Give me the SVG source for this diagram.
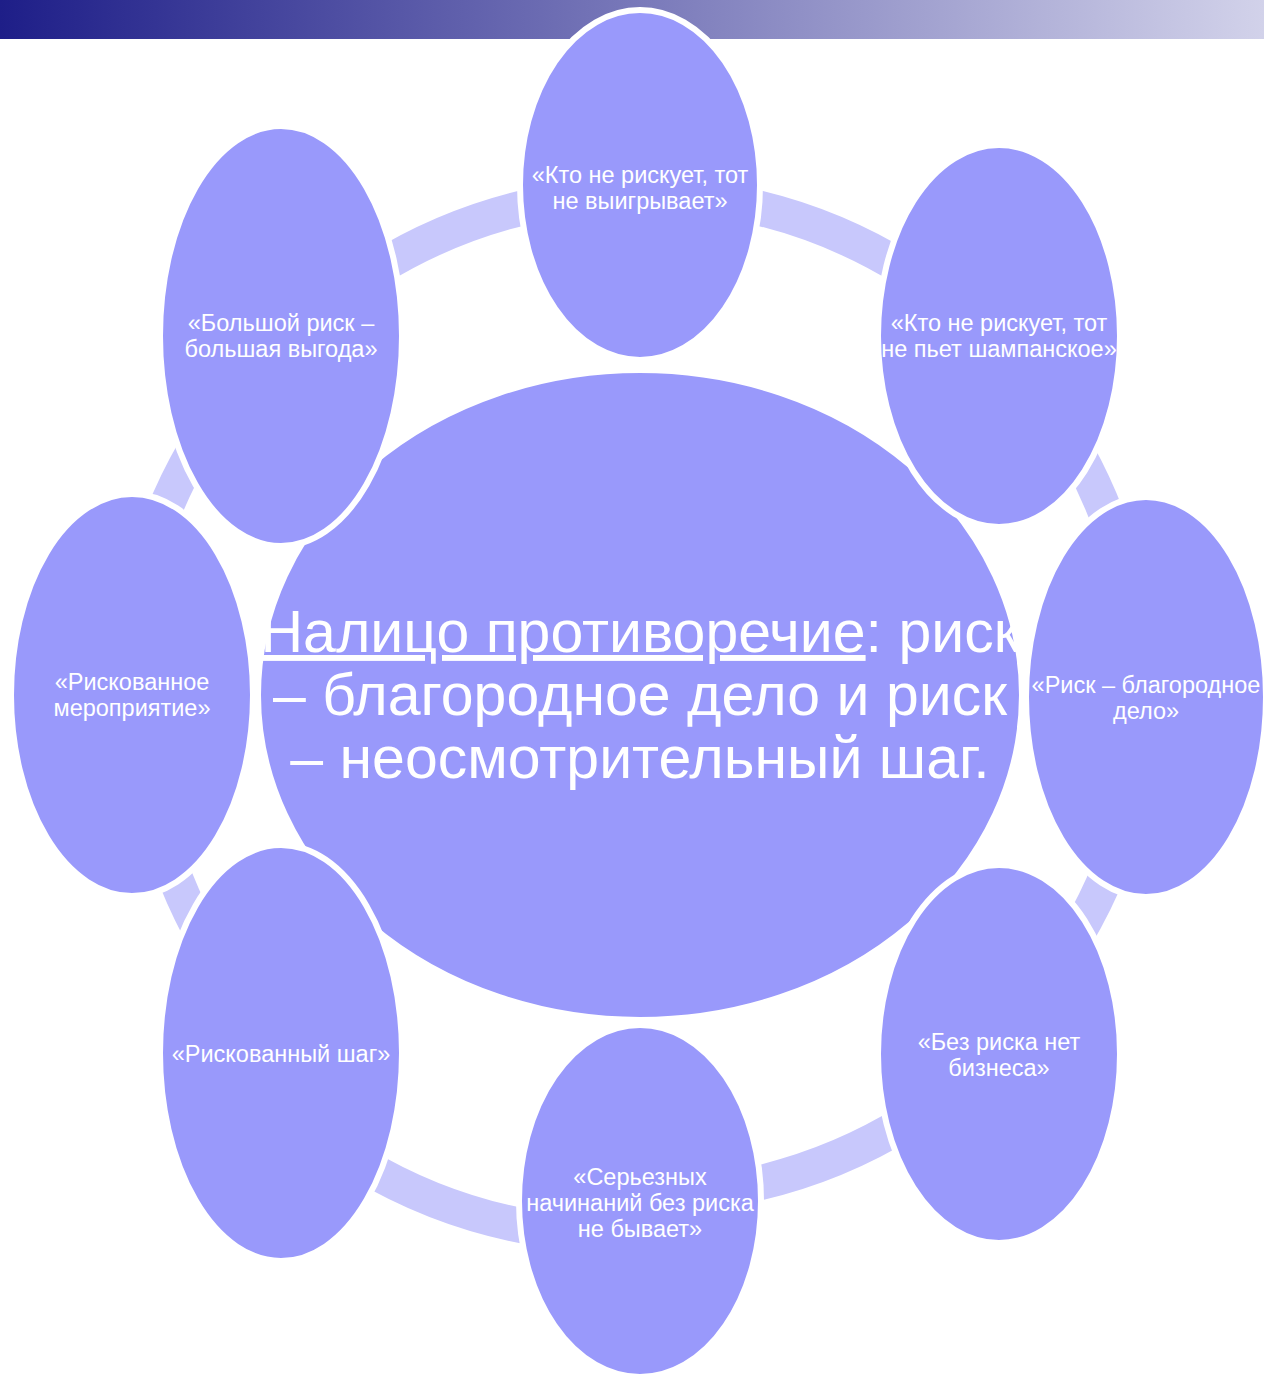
<svg xmlns="http://www.w3.org/2000/svg" width="1264" height="1378" viewBox="0 0 1264 1378">
  <defs>
    <linearGradient id="bar" x1="0" y1="0" x2="1" y2="0">
      <stop offset="0" stop-color="#1e1e88"/>
      <stop offset="1" stop-color="#d2d2ea"/>
    </linearGradient>
    <style>
      .node { fill: #9999fb; stroke: #ffffff; stroke-width: 6; }
      .seg { fill: none; stroke: #c8c8fc; stroke-width: 35; stroke-linecap: butt; }
      .t { font-family: "Liberation Sans", Arial, sans-serif; font-size: 23.5px; fill: #ffffff; text-anchor: middle; }
      .big { font-family: "Liberation Sans", Arial, sans-serif; font-size: 59px; fill: #ffffff; text-anchor: middle; }
    </style>
  </defs>
  <rect x="0" y="0" width="1264" height="39" fill="url(#bar)"/>

  <g id="center">
    <ellipse class="node" cx="640" cy="695" rx="382" ry="325"/>
    <text class="big" x="640" y="652"><tspan text-decoration="underline">Налицо противоречие</tspan>: риск</text>
    <text class="big" x="640" y="715">– благородное дело и риск</text>
    <text class="big" x="640" y="778">– неосмотрительный шаг.</text>
  </g>

  <g id="connectors">
    <path class="seg" d="M375,270 A505,505 0 0 1 540,204"/>
    <path class="seg" d="M741,204 A505,505 0 0 1 906,270"/>
    <path class="seg" d="M1077,452 A505,505 0 0 1 1112,530"/>
    <path class="seg" d="M1111,865 A505,505 0 0 1 1075,938"/>
    <path class="seg" d="M908,1121 A505,505 0 0 1 740,1187"/>
    <path class="seg" d="M534,1228 A505,505 0 0 1 361,1164"/>
    <path class="seg" d="M199,929 A505,505 0 0 1 169,861"/>
    <path class="seg" d="M160,522 A505,505 0 0 1 195,449"/>
  </g>

  <g id="n1">
    <ellipse class="node" cx="640" cy="185" rx="120" ry="175"/>
    <text class="t" x="640" y="183">«Кто не рискует, тот</text>
    <text class="t" x="640" y="209">не выигрывает»</text>
  </g>
  <g id="n2">
    <ellipse class="node" cx="999" cy="336" rx="121" ry="191"/>
    <text class="t" x="999" y="331">«Кто не рискует, тот</text>
    <text class="t" x="999" y="357">не пьет шампанское»</text>
  </g>
  <g id="n3">
    <ellipse class="node" cx="1146" cy="697" rx="120" ry="200"/>
    <text class="t" x="1146" y="693">«Риск – благородное</text>
    <text class="t" x="1146" y="719">дело»</text>
  </g>
  <g id="n4">
    <ellipse class="node" cx="999" cy="1054" rx="121" ry="189"/>
    <text class="t" x="999" y="1050">«Без риска нет</text>
    <text class="t" x="999" y="1076">бизнеса»</text>
  </g>
  <g id="n5">
    <ellipse class="node" cx="640" cy="1201" rx="121" ry="176"/>
    <text class="t" x="640" y="1185">«Серьезных</text>
    <text class="t" x="640" y="1211">начинаний без риска</text>
    <text class="t" x="640" y="1237">не бывает»</text>
  </g>
  <g id="n6">
    <ellipse class="node" cx="281" cy="1053" rx="121" ry="208"/>
    <text class="t" x="281" y="1062">«Рискованный шаг»</text>
  </g>
  <g id="n7">
    <ellipse class="node" cx="132" cy="695" rx="121" ry="201"/>
    <text class="t" x="132" y="690">«Рискованное</text>
    <text class="t" x="132" y="716">мероприятие»</text>
  </g>
  <g id="n8">
    <ellipse class="node" cx="281" cy="336" rx="121" ry="210"/>
    <text class="t" x="281" y="331">«Большой риск –</text>
    <text class="t" x="281" y="357">большая выгода»</text>
  </g>
</svg>
